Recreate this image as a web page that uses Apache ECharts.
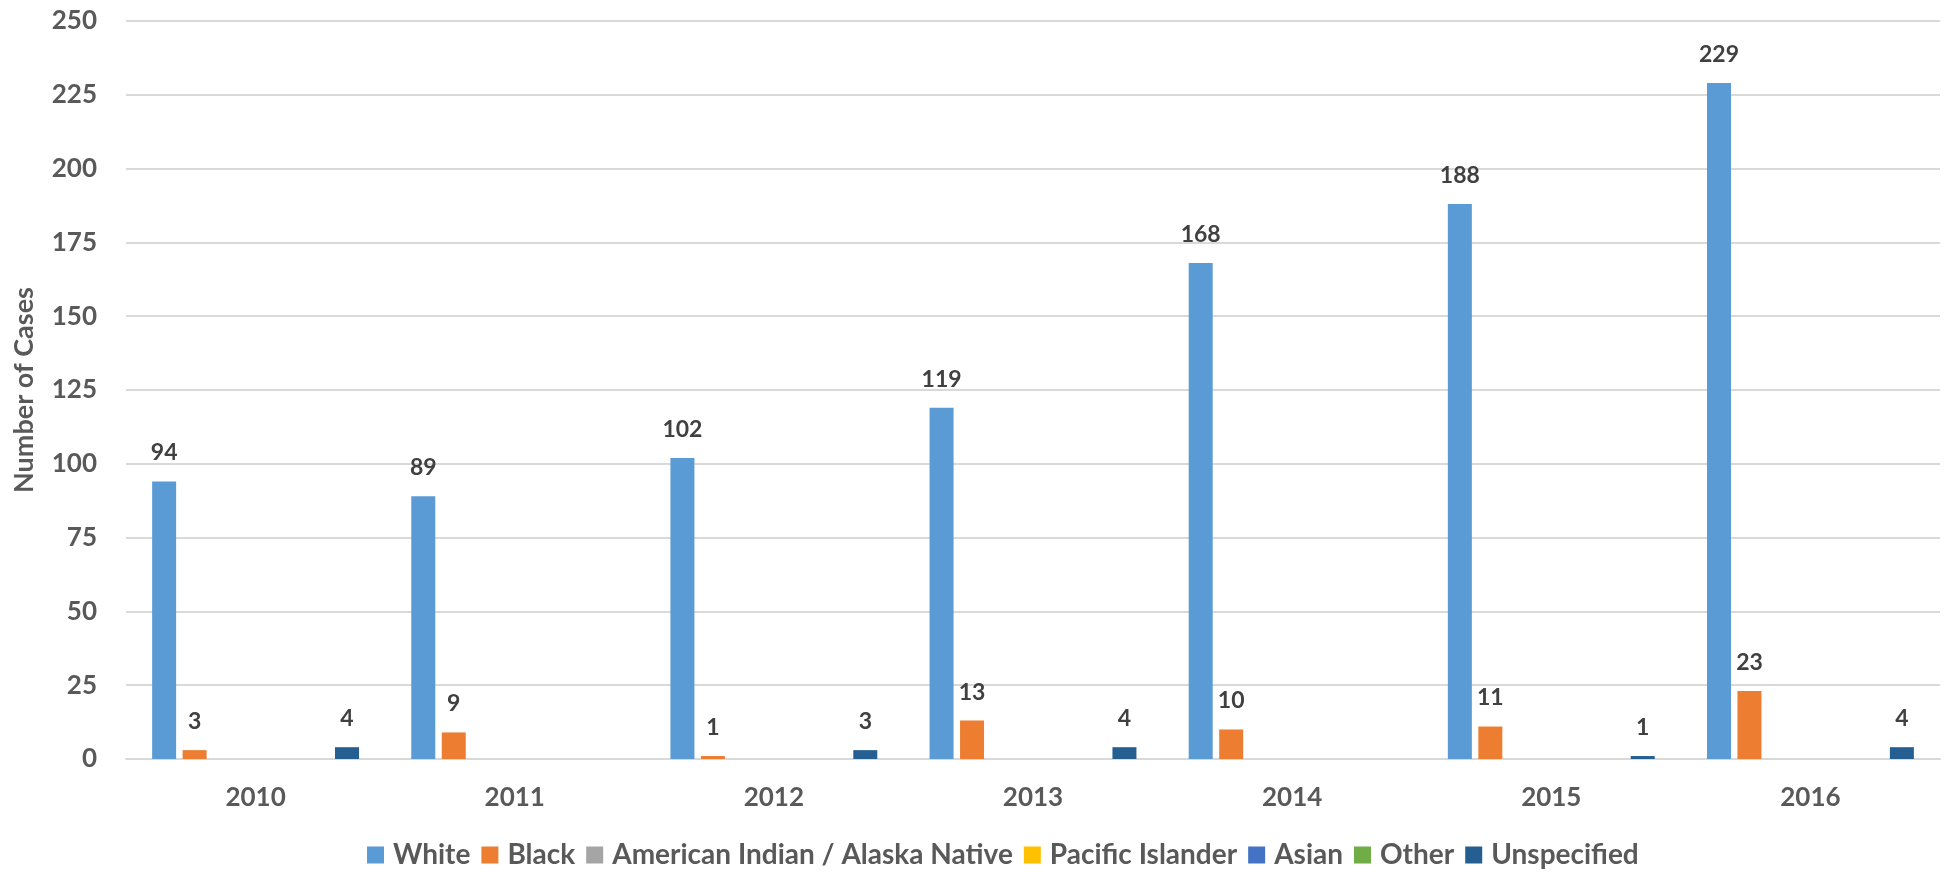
<!DOCTYPE html>
<html>
<head>
<meta charset="utf-8">
<script src="https://cdn.jsdelivr.net/npm/echarts@6/dist/echarts.min.js"></script>
<style>
  html, body { margin: 0; padding: 0; background: #fff; }
  #chart { width: 1950px; height: 876px; }
</style>
</head>
<body>
<div id="chart"></div>
<script>
// Case counts by year and race
const years = ['2010', '2011', '2012', '2013', '2014', '2015', '2016'];
const seriesNames = ['White', 'Black', 'American Indian / Alaska Native', 'Pacific Islander', 'Asian', 'Other', 'Unspecified'];
const white = [94, 89, 102, 119, 168, 188, 229];
const black = [3, 9, 1, 13, 10, 11, 23];
const amIndian = [null, null, null, null, null, null, null];
const pacific = [null, null, null, null, null, null, null];
const asian = [null, null, null, null, null, null, null];
const other = [null, null, null, null, null, null, null];
const unspecified = [4, null, 3, 4, null, 1, 4];
const yTicks = { min: 0, max: 250, interval: 25 };

const colors = ['#5B9BD5', '#ED7D31', '#A5A5A5', '#FFC000', '#4472C4', '#70AD47', '#255E91'];
const seriesData = [white, black, amIndian, pacific, asian, other, unspecified];
const FONT = 'Lato';

const chart = echarts.init(document.getElementById('chart'), null, { renderer: 'canvas' });
chart.setOption({
  animation: false,
  color: colors,
  textStyle: { fontFamily: FONT },
  grid: { left: 126, right: 10, top: 21, bottom: 117 },
  legend: {
    bottom: 2,
    left: 362,
    itemWidth: 17,
    itemHeight: 17,
    itemGap: 11,
    icon: 'rect',
    textStyle: { fontFamily: FONT, fontSize: 28, fontWeight: 'bold', color: '#595959', padding: [0, 0, 0, 4] },
    data: seriesNames
  },
  xAxis: {
    type: 'category',
    data: years,
    axisTick: { show: false },
    axisLine: { lineStyle: { color: '#d9d9d9', width: 2 } },
    axisLabel: { fontFamily: FONT, fontSize: 26, fontWeight: 'bold', color: '#595959', margin: 26 }
  },
  yAxis: {
    type: 'value',
    min: yTicks.min,
    max: yTicks.max,
    interval: yTicks.interval,
    name: 'Number of Cases',
    nameLocation: 'middle',
    nameGap: 88,
    nameTextStyle: { fontFamily: FONT, fontSize: 27, fontWeight: 'bold', color: '#595959' },
    axisLine: { show: false },
    axisTick: { show: false },
    splitLine: { lineStyle: { color: '#d9d9d9', width: 2 } },
    axisLabel: { fontFamily: FONT, fontSize: 26, fontWeight: 'bold', color: '#595959', margin: 29 }
  },
  series: seriesNames.map((name, i) => ({
    name: name,
    type: 'bar',
    data: seriesData[i],
    barWidth: 24,
    barGap: '27%',
    itemStyle: { color: colors[i] },
    label: {
      show: true,
      position: 'top',
      distance: 17,
      fontFamily: FONT,
      fontSize: 23,
      fontWeight: 'bold',
      color: '#404040'
    }
  }))
});
</script>
</body>
</html>
